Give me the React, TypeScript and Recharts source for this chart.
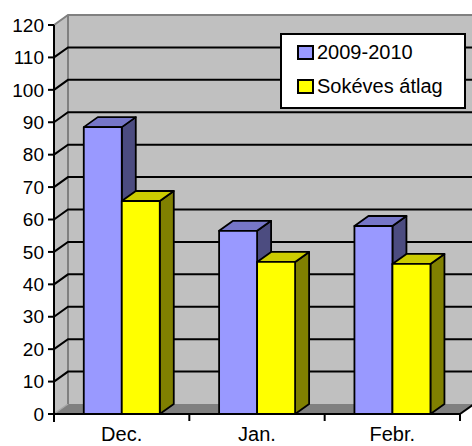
import React from "react";
import {
  BarChart,
  Bar,
  XAxis,
  YAxis,
  CartesianGrid,
  Legend,
  ReferenceArea
} from "recharts";

// values
const months = ["Dec.", "Jan.", "Febr."];
const season2009 = [88.5, 56.5, 58];
const longTermAvg = [65.7, 46.9, 46.3];
const yTicks = [0, 10, 20, 30, 40, 50, 60, 70, 80, 90, 100, 110, 120];
const seriesNames = ["2009-2010", "Sokéves átlag"];

const data = months.map((m, i) => ({
  month: m,
  season: season2009[i],
  avg: longTermAvg[i]
}));

// fake 3d depth
const DX = 14;
const DY = 10;
const PLOT_TOP = 25;
const PLOT_BOTTOM = 414;

const box = (front: string, top: string, side: string) => (props: any) => {
  const { x, y, width: w, height: h } = props;
  if (w == null || h == null) return <g />;
  return (
    <g stroke="#000" strokeWidth={1.8} strokeLinejoin="round">
      <polygon
        points={`${x + w},${y} ${x + w + DX},${y - DY} ${x + w + DX},${y + h - DY} ${x + w},${y + h}`}
        fill={side}
      />
      <polygon
        points={`${x},${y} ${x + DX},${y - DY} ${x + w + DX},${y - DY} ${x + w},${y}`}
        fill={top}
      />
      <rect x={x} y={y} width={w} height={h} fill={front} />
    </g>
  );
};

const walls = (props: any) => {
  const { x, y, width, height } = props;
  const b = y + height;
  const r = x + width + DX + 30;
  return (
    <g>
      <rect x={x + DX} y={y - DY} width={r - x - DX} height={height} fill="#C0C0C0" />
      <polygon points={`${x},${y} ${x + DX},${y - DY} ${x + DX},${b - DY} ${x},${b}`} fill="#C0C0C0" />
      <polygon points={`${x},${b} ${x + width},${b} ${x + width + DX},${b - DY} ${x + DX},${b - DY}`} fill="#808080" />
      <line x1={x + 1} y1={b - 1} x2={x + DX} y2={b - DY} stroke="#A8A8A8" strokeWidth={1.5} />
      <polyline
        points={`${x},${y} ${x + DX},${y - DY} ${r},${y - DY}`}
        fill="none"
        stroke="#808080"
        strokeWidth={2}
      />
      <line x1={x + DX} y1={y - DY} x2={x + DX} y2={b - DY} stroke="#808080" strokeWidth={2} />
      <line x1={x + width} y1={b} x2={x + width + DX} y2={b - DY} stroke="#000" strokeWidth={2} />
    </g>
  );
};

const gridLine = (props: any) => {
  const { x1, y1, x2 } = props;
  if (Math.abs(y1 - PLOT_TOP) < 1 || Math.abs(y1 - PLOT_BOTTOM) < 1) return <g key={props.key} />;
  return (
    <g key={props.key}>
      <polyline
        points={`${x1},${y1} ${x1 + DX},${y1 - DY} ${x2 + DX + 30},${y1 - DY}`}
        fill="none"
        stroke="#000"
        strokeWidth={2}
      />
    </g>
  );
};

const MonthTick = (props: any) => {
  const { x, y, payload, index } = props;
  const half = payload.offset ?? 0;
  return (
    <g>
      <line x1={x + half} y1={y} x2={x + half} y2={y + 7} stroke="#000" strokeWidth={2} />
      {index === 0 && <line x1={x - half} y1={y} x2={x - half} y2={y + 8} stroke="#000" strokeWidth={2} />}
      <text x={x} y={y + 27} textAnchor="middle" fontSize={20} fill="#000">
        {payload.value}
      </text>
    </g>
  );
};

const legendColors = ["#9999FF", "#FFFF00"];

const renderLegend = () => (
  <div
    style={{
      width: 186,
      height: 76,
      boxSizing: "border-box",
      border: "2px solid #000",
      background: "#fff",
      paddingLeft: 15,
      fontSize: 20,
      color: "#000"
    }}
  >
    {seriesNames.map((n, i) => (
      <div key={n} style={{ display: "flex", alignItems: "center", height: 34, lineHeight: "34px" }}>
        <span
          style={{
            display: "inline-block",
            width: 13,
            height: 11,
            border: "2px solid #000",
            background: legendColors[i],
            marginRight: 3
          }}
        />
        <span>{n}</span>
      </div>
    ))}
  </div>
);

export default function App() {
  return (
    <div
      style={{
        position: "absolute",
        left: 0,
        top: 0,
        width: 472,
        height: 446,
        background: "#fff",
        fontFamily: '"Liberation Sans", Arial, sans-serif'
      }}
    >
      <BarChart
        width={472}
        height={446}
        data={data}
        margin={{ top: PLOT_TOP, right: 12, left: 0, bottom: 0 }}
        barCategoryGap="22%"
        barGap={0}
      >
        <ReferenceArea y1={0} y2={120} shape={walls} zIndex={-200} />
        <CartesianGrid vertical={false} horizontal={gridLine} />
        <XAxis
          dataKey="month"
          height={32}
          tickSize={0}
          tickMargin={0}
          tickLine={false}
          axisLine={{ stroke: "#000", strokeWidth: 2 }}
          tick={<MonthTick />}
          interval={0}
        />
        <YAxis
          domain={[0, 120]}
          ticks={yTicks}
          interval={0}
          width={54}
          tickSize={6}
          tickMargin={4}
          axisLine={{ stroke: "#000", strokeWidth: 2 }}
          tickLine={{ stroke: "#000", strokeWidth: 2 }}
          tick={{ fill: "#000", fontSize: 19 }}
        />
        <Legend
          layout="vertical"
          align="center"
          verticalAlign="middle"
          content={renderLegend}
          wrapperStyle={{ left: 280, top: 33, width: 186 }}
        />
        <Bar
          dataKey="season"
          name={seriesNames[0]}
          fill="#9999FF"
          shape={box("#9999FF", "#7676C8", "#4C4C80")}
          isAnimationActive={false}
        />
        <Bar
          dataKey="avg"
          name={seriesNames[1]}
          fill="#FFFF00"
          shape={box("#FFFF00", "#CCCC00", "#808000")}
          isAnimationActive={false}
        />
      </BarChart>
    </div>
  );
}
